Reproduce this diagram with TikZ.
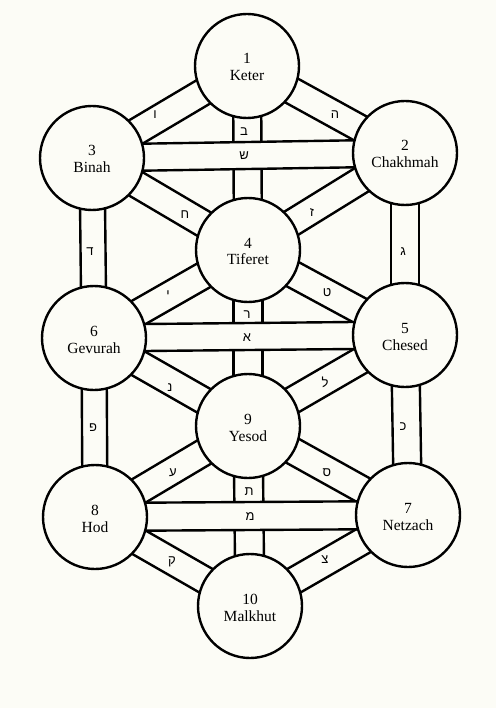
\documentclass[tikz,border=0pt]{standalone}
\usepackage{fontspec}
\setmainfont{Liberation Serif}
\newfontfamily\heb[Script=Hebrew]{Liberation Sans}
\TeXXeTstate=1
\usetikzlibrary{calc}
\pgfdeclarelayer{bg}
\pgfsetlayers{bg,main}
\definecolor{paper}{RGB}{252,252,246}
\tikzset{
  sef/.style={circle, draw=black, line width=2.4pt, fill=paper, minimum size=104pt, inner sep=0pt},
  numtxt/.style={anchor=base, inner sep=0pt, font=\fontsize{15.5}{17}\selectfont},
  lettxt/.style={inner sep=0pt, font=\heb\fontsize{13}{15}\selectfont},
  chan/.style={draw=black, line width=2.4pt, fill=paper, line join=miter}
}
\newcommand\chanpath[3]{%
  \path[chan] ($(#1.center)!#3!90:(#2.center)$) -- ($(#2.center)!#3!-90:(#1.center)$)
    -- ($(#2.center)!#3!90:(#1.center)$) -- ($(#1.center)!#3!-90:(#2.center)$) -- cycle;}
\newcommand\sefira[5]{%
  \node[sef] (#1) at (#2,#3) {};
  \node[numtxt] (#1-n) at (#2,#3-2) {#4};
  \node[numtxt] (#1-t) at (#2,#3+15) {#5};}
\begin{document}
\begin{tikzpicture}[x=1pt,y=-1pt]
\useasboundingbox (0,0) rectangle (496,708);
\begin{pgfonlayer}{bg}
  \fill[paper] (0,0) rectangle (496,708);
\end{pgfonlayer}
\sefira{keter}{247}{66}{1}{Keter}
\sefira{chakhmah}{405}{153}{2}{Chakhmah}
\sefira{binah}{92}{158}{3}{Binah}
\sefira{tiferet}{248}{250}{4}{Tiferet}
\sefira{chesed}{405}{335}{5}{Chesed}
\sefira{gevurah}{94}{338}{6}{Gevurah}
\sefira{yesod}{248}{426}{9}{Yesod}
\sefira{netzach}{408}{515}{7}{Netzach}
\sefira{hod}{95}{517}{8}{Hod}
\sefira{malkhut}{250}{606}{10}{Malkhut}
\begin{pgfonlayer}{bg}
  % diagonals
  \chanpath{keter}{binah}{13.5pt}
  \chanpath{keter}{chakhmah}{13.5pt}
  \chanpath{binah}{tiferet}{13.5pt}
  \chanpath{chakhmah}{tiferet}{13.5pt}
  \chanpath{gevurah}{tiferet}{13.5pt}
  \chanpath{chesed}{tiferet}{13.5pt}
  \chanpath{gevurah}{yesod}{13.5pt}
  \chanpath{chesed}{yesod}{13.5pt}
  \chanpath{hod}{yesod}{13.5pt}
  \chanpath{netzach}{yesod}{13.5pt}
  \chanpath{hod}{malkhut}{13.5pt}
  \chanpath{netzach}{malkhut}{13.5pt}
  % verticals
  \chanpath{binah}{gevurah}{12.5pt}
  \chanpath{gevurah}{hod}{12.5pt}
  \chanpath{chakhmah}{chesed}{14pt}
  \chanpath{chesed}{netzach}{14pt}
  \chanpath{keter}{tiferet}{14pt}
  \chanpath{tiferet}{yesod}{14.5pt}
  \chanpath{yesod}{malkhut}{14.5pt}
  % horizontals
  \chanpath{binah}{chakhmah}{13.5pt}
  \chanpath{gevurah}{chesed}{13.5pt}
  \chanpath{hod}{netzach}{14pt}
\end{pgfonlayer}
% path letters
\node[lettxt] (l-vav)    at (155,115) {ו};
\node[lettxt] (l-bet)    at (244,132) {ב};
\node[lettxt] (l-he)     at (335,115) {ה};
\node[lettxt] (l-shin)   at (244,156) {ש};
\node[lettxt] (l-chet)   at (185,215) {ח};
\node[lettxt] (l-zayin)  at (312,213) {ז};
\node[lettxt] (l-dalet)  at (90,252)  {ד};
\node[lettxt] (l-gimel)  at (403,252) {ג};
\node[lettxt] (l-yod)    at (168,295) {י};
\node[lettxt] (l-tet)    at (327,293) {ט};
\node[lettxt] (l-resh)   at (247,315) {ר};
\node[lettxt] (l-alef)   at (247,338) {א};
\node[lettxt] (l-nun)    at (170,388) {נ};
\node[lettxt] (l-lamed)  at (325,382) {ל};
\node[lettxt] (l-pe)     at (93,428)  {פ};
\node[lettxt] (l-kaf)    at (403,427) {כ};
\node[lettxt] (l-ayin)   at (173,473) {ע};
\node[lettxt] (l-samekh) at (327,473) {ס};
\node[lettxt] (l-tav)    at (249,492) {ת};
\node[lettxt] (l-mem)    at (250,517) {מ};
\node[lettxt] (l-qof)    at (172,562) {ק};
\node[lettxt] (l-tsadi)  at (325,560) {צ};
\end{tikzpicture}
\end{document}
